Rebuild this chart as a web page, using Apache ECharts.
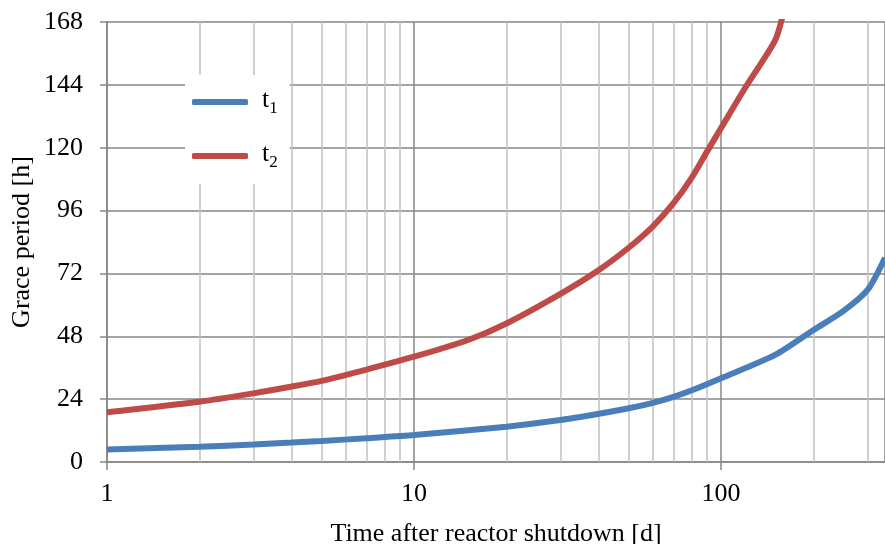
<!DOCTYPE html>
<html>
<head>
<meta charset="utf-8">
<script src="https://cdn.jsdelivr.net/npm/echarts@6/dist/echarts.min.js"></script>
<style>
  html, body { margin: 0; padding: 0; background: #fff; }
  #chart { width: 885px; height: 544px; }
</style>
</head>
<body>
<div id="chart"></div>
<script>
// time after shutdown [d]
const daysT1 = [1, 2, 3, 4, 5, 7, 10, 20, 30, 40, 50, 60, 70, 80, 100, 150, 200, 250, 300, 342]
const graceT1 = [4.8, 5.8, 6.7, 7.4, 8.0, 9.1, 10.3, 13.5, 16.0, 18.4, 20.5, 22.6, 24.9, 27.3, 32.0, 40.9, 50.4, 57.6, 65.7, 78]
const daysT2 = [1, 2, 3, 4, 5, 7, 10, 15, 20, 30, 40, 50, 60, 70, 80, 90, 100, 120, 150, 160]
const graceT2 = [19.0, 23.0, 26.2, 28.8, 31.0, 35.3, 40.2, 46.6, 52.9, 64.2, 73.3, 81.8, 90.0, 98.8, 108.3, 118.5, 127.5, 143, 161, 172]
// minor log grid
const minorDays = [2, 3, 4, 5, 6, 7, 8, 9, 20, 30, 40, 50, 60, 70, 80, 90, 200, 300]

const font = 'Liberation Serif'

function pairs(xs, ys) {
  return xs.map((x, i) => [x, ys[i]])
}

const chart = echarts.init(document.getElementById('chart'))
chart.setOption({
  animation: false,
  textStyle: { fontFamily: font },
  grid: { left: 107, right: 0, top: 22, bottom: 82, containLabel: false, outerBoundsMode: 'none' },
  legend: {
    orient: 'vertical',
    left: 185,
    top: 75,
    padding: [10, 12, 13, 7],
    backgroundColor: '#fff',
    itemWidth: 56,
    itemHeight: 6,
    itemGap: 22,
    data: [{ name: 't1', icon: 'roundRect' }, { name: 't2', icon: 'roundRect' }],
    formatter: name => '{a|t}{b|' + name.slice(1) + '}',
    textStyle: {
      rich: {
        a: { fontFamily: font, fontSize: 26, color: '#000', lineHeight: 30, padding: [0, 0, 0, 9], verticalAlign: 'top' },
        b: { fontFamily: font, fontSize: 17, color: '#000', lineHeight: 17, padding: [15, 0, 0, 0], verticalAlign: 'bottom' }
      }
    }
  },
  xAxis: {
    type: 'log',
    logBase: 10,
    min: 1,
    max: 342,
    name: 'Time after reactor shutdown [d]',
    nameLocation: 'middle',
    nameGap: 59,
    nameMoveOverlap: false,
    nameTextStyle: { fontFamily: font, fontSize: 26, color: '#000' },
    axisLine: { lineStyle: { color: '#868686', width: 1.5 } },
    axisTick: { show: true, length: 8, lineStyle: { color: '#868686', width: 1.5 } },
    axisLabel: { fontFamily: font, fontSize: 26, color: '#000', margin: 19, showMaxLabel: false },
    splitLine: { show: true, lineStyle: { color: '#868686', width: 1.5 } }
  },
  yAxis: {
    type: 'value',
    min: 0,
    max: 168,
    interval: 24,
    name: 'Grace period [h]',
    nameLocation: 'middle',
    nameGap: 72,
    nameMoveOverlap: false,
    nameTextStyle: { fontFamily: font, fontSize: 26, color: '#000' },
    axisLine: { show: true, lineStyle: { color: '#868686', width: 1.5 } },
    axisTick: { show: true, length: 7, lineStyle: { color: '#868686', width: 1.5 } },
    axisLabel: { fontFamily: font, fontSize: 26, color: '#000', margin: 24 },
    splitLine: { show: true, lineStyle: { color: '#868686', width: 1.5 } }
  },
  series: [
    {
      name: 't1',
      type: 'line',
      showSymbol: false,
      smooth: 0.25,
      lineStyle: { color: '#4a7ebb', width: 6, cap: 'butt' },
      itemStyle: { color: '#4a7ebb' },
      data: pairs(daysT1, graceT1),
      markLine: {
        z: 1,
        silent: true,
        symbol: 'none',
        label: { show: false },
        lineStyle: { color: '#c0c0c0', width: 1.5, type: 'solid' },
        data: minorDays.map(d => ({ xAxis: d }))
      }
    },
    {
      name: 't2',
      type: 'line',
      showSymbol: false,
      smooth: 0.25,
      lineStyle: { color: '#be4b48', width: 6, cap: 'butt' },
      itemStyle: { color: '#be4b48' },
      data: pairs(daysT2, graceT2)
    }
  ]
})
</script>
</body>
</html>
